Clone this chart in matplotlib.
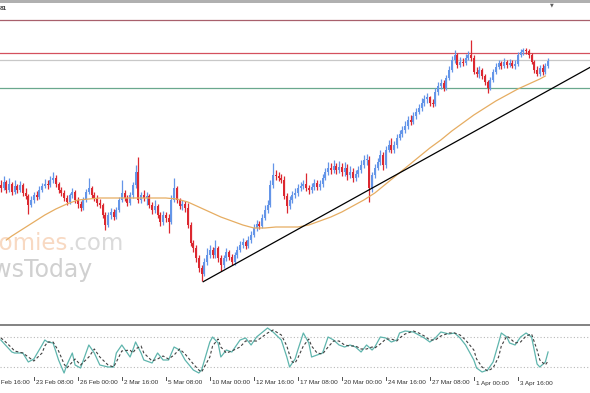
import matplotlib
matplotlib.use('Agg')
import matplotlib.pyplot as plt
import matplotlib.transforms as mtransforms
from matplotlib.patches import Rectangle

W, H = 590, 393

# H4 candles, prices in pips above an arbitrary base
first_open = 215
closes = [
    212, 218, 210, 216, 208, 214, 210, 215, 207, 204,
    195, 200, 205, 203, 210, 214, 216, 215, 220, 222,
    216, 210, 207, 202, 198, 205, 208, 200, 196, 192,
    200, 208, 212, 205, 202, 197, 195, 185, 175, 185,
    188, 183, 190, 200, 207, 202, 197, 205, 215, 228,
    200, 205, 202, 204, 195, 190, 194, 185, 178, 185,
    182, 178, 200, 212, 200, 194, 196, 192, 175, 157,
    152, 142, 132, 126, 138, 145, 150, 145, 152, 142,
    135, 142, 148, 143, 138, 145, 150, 155, 158, 154,
    160, 165, 172, 176, 174, 182, 190, 195, 215, 225,
    224, 222, 220, 204, 194, 200, 205, 207, 212, 214,
    216, 212, 210, 213, 217, 213, 216, 222, 228, 232,
    230, 234, 230, 233, 228, 232, 225, 228, 222, 226,
    230, 235, 240, 240, 212, 225, 232, 238, 245, 235,
    250, 255, 250, 255, 262, 266, 270, 274, 280, 278,
    284, 288, 292, 297, 301, 303, 297, 296, 308, 314,
    317, 312, 322, 330, 340, 345, 335, 338, 337, 342,
    345, 342, 328, 326, 330, 324, 318, 312, 320, 328,
    333, 337, 334, 338, 335, 337, 334, 336, 345, 348,
    350, 349, 345, 338, 330, 326, 332, 328, 334, 339,
]
highs = [
    220, 224, 220, 222, 218, 220, 216, 219, 217, 212,
    206, 204, 208, 209, 214, 217, 221, 220, 224, 228,
    225, 218, 213, 210, 205, 207, 212, 210, 203, 199,
    203, 211, 222, 214, 208, 205, 201, 197, 188, 188,
    192, 191, 193, 203, 220, 210, 205, 208, 218, 235,
    243, 208, 210, 208, 206, 198, 200, 196, 188, 189,
    188, 186, 205, 222, 214, 202, 200, 199, 197, 178,
    160, 155, 145, 135, 142, 152, 155, 153, 160, 154,
    145, 145, 152, 150, 146, 148, 154, 159, 162, 160,
    164, 169, 176, 180, 179, 186, 195, 200, 220, 237,
    230, 228, 226, 224, 207, 204, 209, 212, 216, 218,
    220, 227, 215, 217, 221, 220, 220, 226, 232, 238,
    237, 240, 237, 239, 237, 238, 236, 234, 232, 230,
    234, 240, 245, 246, 244, 228, 236, 242, 250, 248,
    254, 260, 262, 259, 266, 270, 274, 279, 284, 285,
    288, 292, 296, 302, 305, 307, 304, 301, 312, 318,
    321, 320, 325, 334, 344, 350, 347, 343, 342, 346,
    349, 360, 345, 333, 334, 332, 326, 320, 323, 331,
    337, 340, 339, 342, 340, 341, 340, 340, 348, 351,
    352, 352, 351, 347, 340, 334, 335, 336, 337, 342,
]
lows = [
    208, 210, 207, 208, 205, 206, 207, 208, 204, 201,
    186, 193, 197, 200, 201, 208, 212, 211, 213, 217,
    213, 207, 204, 199, 195, 196, 202, 197, 192, 189,
    190, 198, 206, 202, 199, 194, 192, 182, 170, 173,
    181, 180, 181, 188, 198, 199, 194, 195, 202, 212,
    197, 197, 199, 195, 192, 186, 187, 182, 174, 175,
    178, 167, 176, 198, 197, 191, 190, 188, 172, 154,
    148, 138, 128, 119, 124, 135, 142, 142, 142, 138,
    129, 132, 139, 140, 135, 135, 142, 148, 152, 151,
    152, 157, 163, 169, 171, 172, 180, 187, 193, 212,
    220, 219, 217, 201, 187, 191, 197, 202, 204, 209,
    211, 209, 206, 207, 210, 210, 210, 213, 220, 225,
    226, 227, 226, 227, 224, 224, 220, 222, 218, 219,
    223, 227, 232, 235, 198, 208, 222, 230, 235, 230,
    232, 248, 247, 247, 252, 260, 263, 267, 271, 275,
    276, 281, 286, 289, 294, 297, 294, 293, 294, 305,
    311, 309, 310, 320, 328, 337, 332, 333, 334, 335,
    340, 339, 326, 323, 322, 321, 315, 307, 310, 318,
    326, 331, 331, 332, 332, 333, 332, 331, 334, 343,
    345, 346, 342, 336, 327, 324, 324, 325, 326, 332,
]

# moving average (bar index, level)
ma_bars = [2, 4, 8, 12, 16, 20, 24, 28, 32, 36, 40, 44, 48, 52, 56, 60, 64, 68,
           72, 76, 80, 84, 88, 92, 96, 100, 104, 108, 112, 116, 120, 124, 128,
           132, 136, 140, 144, 148, 152, 156, 160, 164, 168, 172, 176, 180, 184,
           188, 192, 196, 198]
ma_vals = [160, 164, 171, 178, 185, 191, 196, 200, 201, 202, 202, 202, 202, 202,
           202, 202, 201, 198, 193, 188, 183, 179, 175, 172, 172, 173, 173, 173,
           175, 179, 183, 188, 194, 200, 207, 216, 225, 234, 243, 252, 260, 269,
           277, 285, 292, 299, 305, 311, 316, 321, 324]

# horizontal levels and trend line
levels = [380, 347, 340, 312]
level_colors = ['#a8606c', '#d4505e', '#c8c8c8', '#6aa88e']
trend_bars = [73.6, 214.5]
trend_vals = [118.3, 333.0]

# stochastic oscillator (bar index, %K, %D)
stoch_bars = [0, 1, 4, 5, 8, 10, 12, 15, 16, 17, 19, 21, 23, 24, 26, 27, 29, 32,
              34, 36, 39, 41, 42, 44, 47, 48, 49, 51, 52, 55, 57, 59, 61, 63, 65,
              67, 70, 72, 73, 76, 77, 79, 80, 82, 84, 87, 89, 91, 93, 97, 99, 102,
              104, 105, 106, 107, 108, 110, 112, 113, 115, 117, 119, 121, 123, 125,
              127, 129, 131, 133, 135, 136, 138, 140, 142, 144, 145, 147, 150, 152,
              154, 156, 158, 160, 163, 165, 167, 169, 172, 173, 175, 177, 179, 181,
              182, 184, 185, 187, 189, 191, 193, 195, 196, 198, 199]
stoch_k = [74, 68, 50, 48, 48, 30, 36, 64, 74, 70, 68, 34, 8, 24, 48, 24, 18, 64,
           48, 24, 20, 20, 48, 64, 40, 54, 70, 48, 34, 28, 48, 34, 34, 60, 54,
           34, 14, 8, 14, 70, 80, 68, 40, 54, 50, 74, 78, 64, 80, 98, 90, 74,
           40, 20, 28, 36, 54, 88, 68, 40, 44, 48, 80, 74, 64, 60,
           64, 60, 50, 64, 54, 60, 80, 78, 70, 74, 88, 92, 90, 84,
           78, 70, 78, 90, 86, 88, 78, 64, 34, 18, 10, 14, 30, 68,
           88, 80, 68, 64, 80, 88, 80, 26, 20, 30, 50]
stoch_d = [78, 74, 58, 52, 48, 40, 32, 48, 62, 70, 70, 52, 26, 18, 30, 36, 24, 40,
           56, 40, 24, 20, 30, 52, 54, 48, 56, 62, 48, 32, 36, 42, 36, 44, 56,
           46, 26, 14, 10, 40, 62, 76, 60, 48, 52, 60, 72, 72, 72, 88, 94, 84,
           62, 44, 30, 28, 38, 62, 76, 62, 48, 46, 60, 72, 72, 64,
           62, 62, 56, 56, 60, 58, 66, 76, 76, 72, 78, 86, 92, 88,
           82, 74, 74, 82, 88, 88, 84, 74, 54, 36, 20, 12, 18, 40,
           62, 82, 78, 68, 70, 82, 86, 54, 34, 24, 32]

# time axis labels every 16 bars
label_bars = [-4, 12, 28, 44, 60, 76, 92, 108, 124, 140, 156, 172, 188]
label_texts = ['18 Feb 16:00', '23 Feb 08:00', '26 Feb 00:00', '2 Mar 16:00',
               '5 Mar 08:00', '10 Mar 00:00', '12 Mar 16:00', '17 Mar 08:00',
               '20 Mar 00:00', '24 Mar 16:00', '27 Mar 08:00', '1 Apr 00:00',
               '3 Apr 16:00']

BULL = '#6495e8'
BEAR = '#dc2830'
px_per_bar = 2.75


def fy(y):
    return 1 - y / H


fig = plt.figure(figsize=(W / 100, H / 100), dpi=100)
fig.patch.set_facecolor('white')
xlim = (-0.3, W / px_per_bar - 0.3)

# main price panel
ax = fig.add_axes([0, fy(322), 1, (322 - 3) / H])
ax.set_xlim(*xlim)
ax.set_ylim(78, 397)
ax.axis('off')

# watermark (site name, partly off the left edge)
ax.text(24.4, 150, 'Economies', ha='right', va='baseline', fontsize=16.5,
        color='#f8d9c2', zorder=0)
ax.text(24.4, 150, '.com', ha='left', va='baseline', fontsize=16.5,
        color='#dadada', zorder=0)
ax.text(33.5, 123, 'NewsToday', ha='right', va='baseline', fontsize=17,
        color='#d0d0d0', zorder=0)

for lv, col in zip(levels, level_colors):
    ax.axhline(lv, color=col, lw=0.9, zorder=1)

opens = [first_open] + closes[:-1]
for i, (o, h, l, c) in enumerate(zip(opens, highs, lows, closes)):
    col = BULL if c >= o else BEAR
    hi = max(h, o, c)
    lo = min(l, o, c)
    ax.vlines(i, lo, hi, color=col, lw=0.9, zorder=2)
    ax.bar(i, max(abs(c - o), 0.8), bottom=min(o, c), width=0.75, color=col,
           linewidth=0, zorder=3)

ax.plot(ma_bars, ma_vals, color='#e6ad62', lw=0.9, zorder=4)
ax.plot(trend_bars, trend_vals, color='black', lw=0.9, zorder=5)

# stochastic panel
ax2 = fig.add_axes([0, fy(378), 1, (378 - 326) / H])
ax2.set_xlim(*xlim)
ax2.set_ylim(-2, 102)
ax2.axis('off')
for lv in (80, 20):
    ax2.axhline(lv, color='#b8b8b8', lw=0.8, ls=(0, (1, 2)))
ax2.plot(stoch_bars, stoch_k, color='#5fb5ad', lw=0.9)
ax2.plot(stoch_bars, stoch_d, color='#404040', lw=0.8, ls=(0, (2.5, 2)))

# time labels
tr = mtransforms.blended_transform_factory(ax2.transData, fig.transFigure)
for b, t in zip(label_bars, label_texts):
    fig.lines.append(plt.Line2D([b, b], [fy(376.5), fy(380)], transform=tr,
                                color='#505050', lw=0.7))
    fig.text(b + 0.7, fy(383), t, transform=tr, ha='left', va='center',
             fontsize=4.6, family='Liberation Sans', color='#303030')

# window frame bits
fig.add_artist(Rectangle((0, fy(2.5)), 1, 2.5 / H, transform=fig.transFigure,
                         color='#b0b0b0', lw=0))
fig.add_artist(Rectangle((0, fy(326)), 1, 2.5 / H, transform=fig.transFigure,
                         color='#858585', lw=0))
fig.text(551.5 / W, fy(4.5), '\u25bc', ha='center', va='center', fontsize=3.5,
         color='#606060')
fig.text(0, fy(9), '81', ha='left', va='center', fontsize=4.6,
         family='Liberation Sans', weight='bold', color='#404040')

fig.savefig('out.png', dpi=100)
